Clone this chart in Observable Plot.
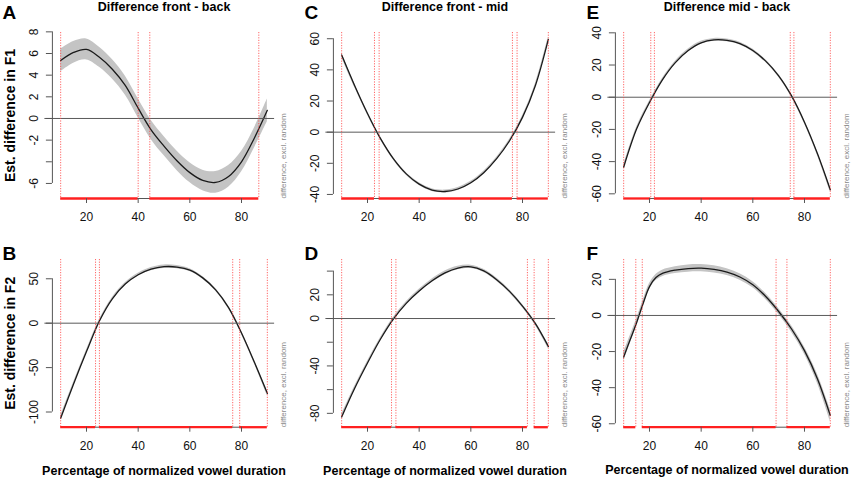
<!DOCTYPE html>
<html><head><meta charset="utf-8">
<script src="https://cdn.jsdelivr.net/npm/d3@7"></script>
<script src="https://cdn.jsdelivr.net/npm/@observablehq/plot@0.6"></script>
<style>
html,body{margin:0;padding:0;background:#fff;}
#chart{position:relative;width:851px;height:478px;overflow:hidden;background:#fff;}
.panel{position:absolute;}
.panel svg{overflow:visible;}
</style></head><body><div id="chart"></div>
<script>
// ---------- data ----------
const xGrid  = [10,15,20,25,30,35,40,45,50,55,60,65,70,75,80,85,90];
const xGridF = [10,12.5,15,17.5,20,22.5,25,30,35,40,45,50,55,60,65,70,75,80,85,90];

// A: front - back, F1
const fitA = [5.35,6.1,6.38,5.65,4.55,3.05,0.95,-1.05,-2.55,-3.9,-5.0,-5.72,-5.9,-5.35,-4.0,-1.8,0.75];
const ciA  = [1.05,1.0,0.97,0.93,0.9,0.88,0.88,0.88,0.88,0.9,0.92,0.95,1.0,1.0,0.95,0.92,1.05];
const sigA = [[10,40],[44.5,86.7]];
const yTicksA = [-6,-4,-2,0,2,4,6,8];
const yLabelsA = [-6,-2,0,2,4,6,8];
const yDomainA = [-7.39, 7.94];

// C: front - mid, F1
const fitC = [49.5,30,12,-4,-17,-26.8,-33.4,-37.2,-38.1,-36.5,-32.5,-26,-17,-5.5,9.5,30,59.6];
const ciC  = [1.5,1.2,1.0,0.9,0.9,0.9,0.9,0.9,0.9,0.9,0.9,0.9,0.9,0.9,1.0,1.2,1.5];
const sigC = [[10,22.7],[24.5,76.1],[77.9,90]];
const yTicksC = [-40,-20,0,20,40,60];
const yLabelsC = [-40,-20,0,20,40,60];
const yDomainC = [-42.6, 64.0];

// E: mid - back, F1
const fitE = [-43.5,-19.8,-3.3,10.8,21.5,29,33.8,35.6,35.3,33.3,29,22.4,13.3,0.8,-15.5,-35,-57.5];
const ciE  = [1.5,1.2,1.0,0.9,0.9,0.9,0.9,0.9,0.9,0.9,0.9,0.9,0.9,0.9,1.0,1.2,1.5];
const sigE = [[10,20.5],[21.9,74.5],[75.9,90]];
const yTicksE = [-60,-40,-20,0,20,40];
const yLabelsE = [-60,-40,-20,0,20,40];
const yDomainE = [-62.9, 40.2];

// B: front - back, F2
const fitB = [-107,-68.5,-32,2.5,27.5,44,54.5,60.8,63.6,63.2,59.8,51,37.5,17.5,-11,-44,-79];
const ciB  = [2.5,2,1.8,1.6,1.5,1.5,1.6,1.8,2,1.8,1.6,1.5,1.5,1.6,1.8,2,2.5];
const sigB = [[10,23.5],[25,76.6],[79.3,90]];
const yTicksB = [-100,-50,0,50];
const yLabelsB = [-100,-50,0,50];
const yDomainB = [-117.1, 71.7];

// D: front - mid, F2
const fitD = [-83,-59,-37.5,-17.5,-0.5,12.8,23.2,31.8,38.5,42.6,43.6,40.2,32.8,22.9,10.5,-4.3,-23.5];
const ciD  = [2,1.6,1.4,1.3,1.3,1.3,1.4,1.5,1.6,1.5,1.4,1.3,1.3,1.3,1.4,1.6,2];
const sigD = [[10,29.3],[31,81.9],[84.5,90]];
const yTicksD = [-80,-60,-40,-20,0,20,40];
const yLabelsD = [-80,-40,0,20];
const yDomainD = [-91.7, 49.8];

// F: mid - back, F2
const fitF = [-23,-13.5,-4,6.5,16,21,23.3,25.1,26,26.2,25.5,24,21.3,17,10.5,2.2,-7.5,-19.5,-35,-55.4];
const ciF  = [2.5,2.2,2,1.8,1.7,1.7,1.8,1.9,2,2,2,1.9,1.8,1.7,1.7,1.7,1.8,2,2.6,3.4];
const sigF = [[10,14.7],[17.2,69],[73.2,90]];
const yTicksF = [-60,-40,-20,0,20];
const yLabelsF = [-60,-40,-20,0,20];
const yDomainF = [-61.9, 31.0];

const xTicks = [20,40,60,80];
const xDomain = [6.8, 93.2];
const titles = ["Difference front - back","Difference front - mid","Difference mid - back"];
const yTitles = ["Est. difference in F1","Est. difference in F2"];
const xTitle = "Percentage of normalized vowel duration";
const note = "difference, excl. random";

// ---------- layout ----------
const colLeft = [0, 281.3, 563.3];
const colWidth = [283, 283, 287.7];
const rowTop = [0, 228];
const rowHeight = [228, 250];
const rowMT = [32, 31];
const rowMB = [30, 51.3];
const FONT = "'Liberation Sans', Arial, Helvetica, sans-serif";
const CURVE = "catmull-rom";

const panels = [
  {r:0,c:0,letter:"A",x:xGrid,fit:fitA,ci:ciA,sig:sigA,yTicks:yTicksA,yLabels:yLabelsA,yDomain:yDomainA},
  {r:0,c:1,letter:"C",x:xGrid,fit:fitC,ci:ciC,sig:sigC,yTicks:yTicksC,yLabels:yLabelsC,yDomain:yDomainC},
  {r:0,c:2,letter:"E",x:xGrid,fit:fitE,ci:ciE,sig:sigE,yTicks:yTicksE,yLabels:yLabelsE,yDomain:yDomainE},
  {r:1,c:0,letter:"B",x:xGrid,fit:fitB,ci:ciB,sig:sigB,yTicks:yTicksB,yLabels:yLabelsB,yDomain:yDomainB},
  {r:1,c:1,letter:"D",x:xGrid,fit:fitD,ci:ciD,sig:sigD,yTicks:yTicksD,yLabels:yLabelsD,yDomain:yDomainD},
  {r:1,c:2,letter:"F",x:xGridF,fit:fitF,ci:ciF,sig:sigF,yTicks:yTicksF,yLabels:yLabelsF,yDomain:yDomainF},
];

function panel(p) {
  const rows = p.x.map((x,i)=>({x, fit:p.fit[i], lo:p.fit[i]-p.ci[i], hi:p.fit[i]+p.ci[i]}));
  const segs = p.sig.map(([a,b])=>({a,b}));
  const bounds = p.sig.flat();
  const ybot = p.yDomain[0];
  const width = colWidth[p.c], height = rowHeight[p.r];
  const marks = [
    Plot.areaY(rows, {x:"x", y1:"lo", y2:"hi", fill:"#c4c4c4", curve:CURVE}),
    Plot.line(rows, {x:"x", y:"fit", stroke:"#1a1a1a", strokeWidth:1.3, curve:CURVE}),
    Plot.ruleY([0], {stroke:"#5a5a5a", strokeWidth:1, insetLeft:-7.5, insetRight:1}),
    Plot.ruleX(bounds, {stroke:"#ff4040", strokeWidth:1, strokeOpacity:0.8, strokeDasharray:"1.2,1.4"}),
    Plot.ruleY([ybot], {x1:xTicks[0], x2:xTicks[xTicks.length-1], stroke:"#555"}),
    Plot.ruleY(segs, {y:() => ybot, x1:"a", x2:"b", stroke:"#ff2020", strokeWidth:2.3}),
    Plot.ruleX([xDomain[0]], {y1:p.yTicks[0], y2:p.yTicks[p.yTicks.length-1], stroke:"#555"}),
    Plot.axisX({ticks:xTicks, tickSize:5, tickPadding:8.8, label:null, stroke:"#555", fill:"#111", fontSize:12, tickFormat:d=>String(d)}),
    Plot.axisY({ticks:p.yTicks, tickSize:6, tickPadding:8.6, tickRotate:-90, label:null, stroke:"#555", fill:"#111", fontSize:12,
                tickFormat:d=>p.yLabels.includes(d) ? String(d) : ""}),
    Plot.text([note], {frameAnchor:"bottom-right", rotate:-90, textAnchor:"start", lineAnchor:"middle", dx:7.4, fill:"#8a8a8a", fontSize:8}),
    Plot.text([p.letter], {frameAnchor:"top-left", textAnchor:"start", lineAnchor:"bottom", dx:p.c===0?-50:-29, dy:p.r===0?-13.7:0.3, fontSize:19, fontWeight:"bold", fill:"#000"}),
  ];
  if (p.r === 0) marks.push(Plot.text([titles[p.c]], {frameAnchor:"top", lineAnchor:"bottom", dy:-21.3, fontSize:12.5, fontWeight:"bold", fill:"#000"}));
  if (p.c === 0) marks.push(Plot.text([yTitles[p.r]], {frameAnchor:"left", rotate:-90, textAnchor:"middle", lineAnchor:"middle", dx:-41.7, fontSize:14, fontWeight:"bold", fill:"#000"}));
  if (p.r === 1) marks.push(Plot.text([xTitle], {frameAnchor:"bottom", lineAnchor:"middle", dy:43.3, fontSize:12.5, fontWeight:"bold", fill:"#000"}));
  return Plot.plot({
    width, height,
    marginTop: rowMT[p.r], marginBottom: rowMB[p.r],
    marginLeft: 51.9, marginRight: width - 275.1,
    x: {domain: xDomain, label: null},
    y: {domain: p.yDomain, label: null},
    style: {background:"transparent", overflow:"visible", fontFamily:FONT, fontSize:"12px", color:"#111"},
    marks
  });
}

const chart = document.getElementById("chart");
for (const p of panels) {
  const div = document.createElement("div");
  div.className = "panel";
  div.style.left = colLeft[p.c] + "px";
  div.style.top = rowTop[p.r] + "px";
  div.style.width = colWidth[p.c] + "px";
  div.style.height = rowHeight[p.r] + "px";
  div.appendChild(panel(p));
  chart.appendChild(div);
}
</script></body></html>
